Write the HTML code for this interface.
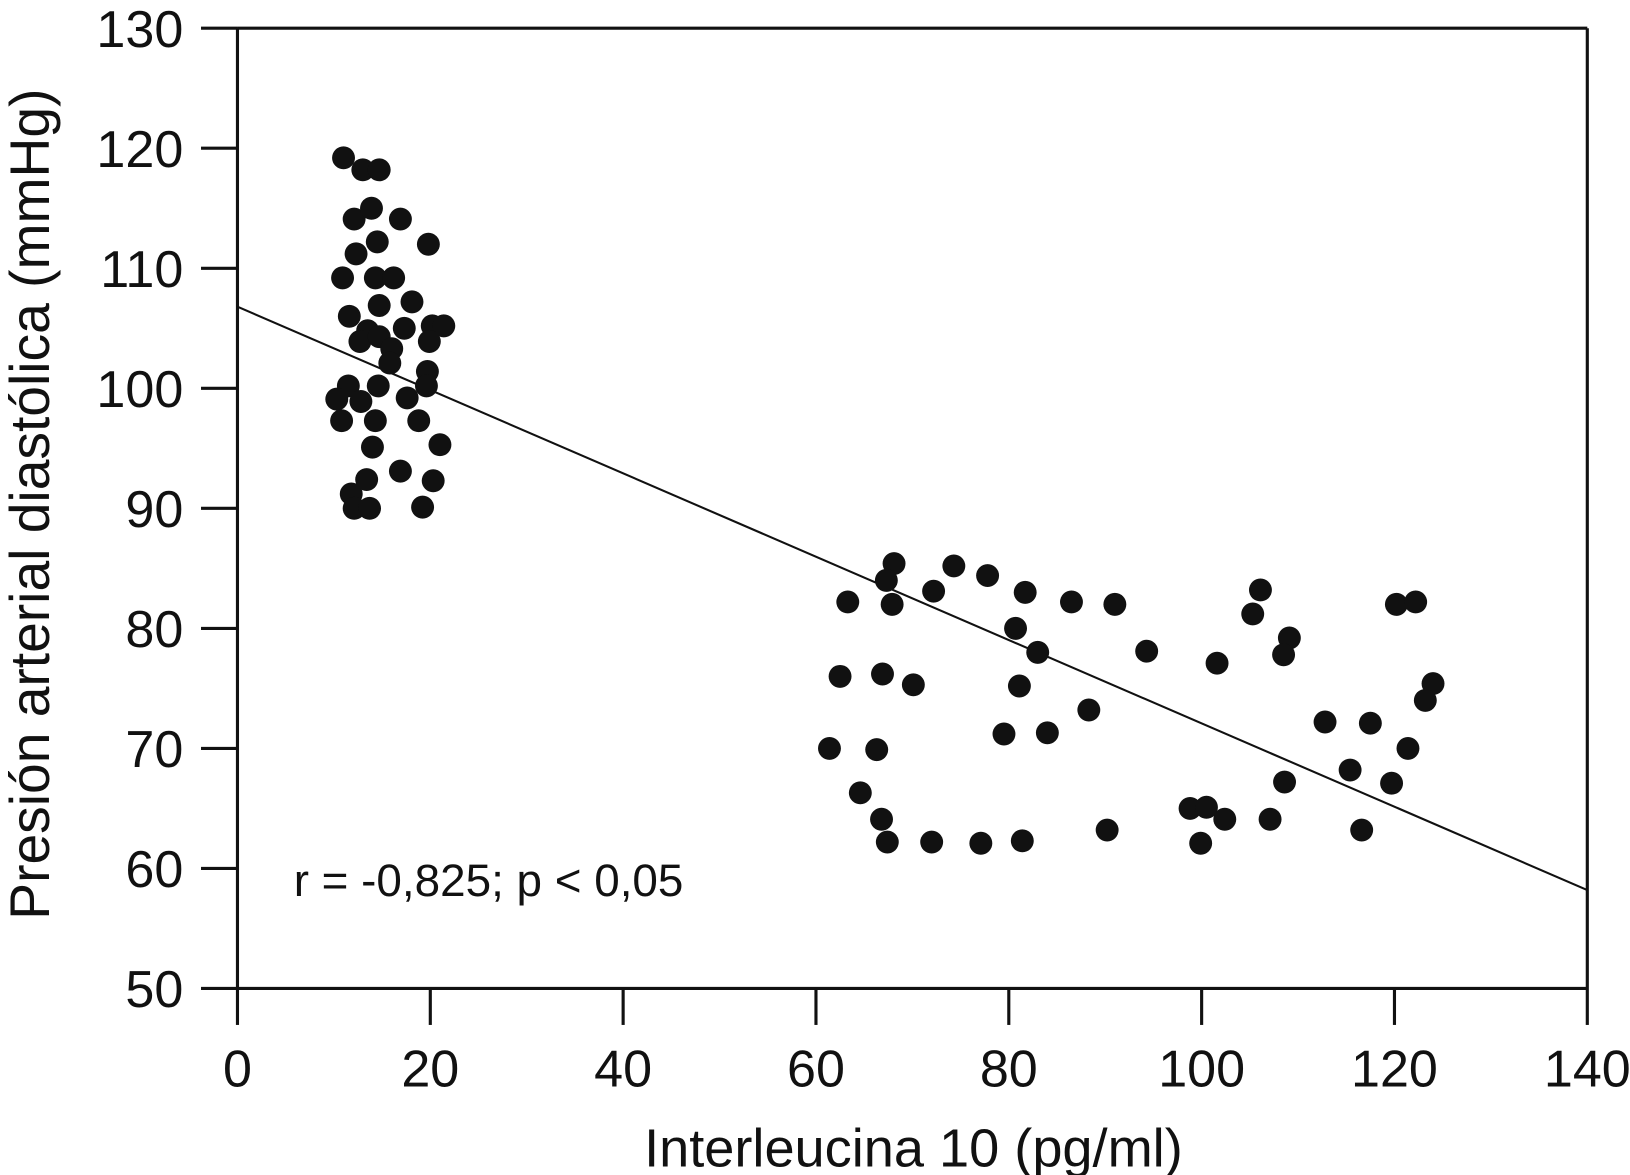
<!DOCTYPE html>
<html><head><meta charset="utf-8"><style>
html,body{margin:0;padding:0;background:#fff;}
svg{display:block;font-family:"Liberation Sans",Arial,sans-serif;}
</style></head><body>
<svg id="chart" width="1630" height="1175" viewBox="0 0 1565 1128">
<rect width="1565" height="1128" fill="#fff"/>
<g id="axes"></g>
<g id="pts"></g>
<text x="282" y="860" font-size="44" fill="#111">r = -0,825; p &lt; 0,05</text>
<text x="877" y="1120" font-size="52" fill="#111" text-anchor="middle">Interleucina 10 (pg/ml)</text>
<text transform="translate(47,484) rotate(-90)" font-size="53" fill="#111" text-anchor="middle">Presión arterial diastólica (mmHg)</text>
</svg>
<script>
const xTicks=[0,20,40,60,80,100,120,140];
const yTicks=[50,60,70,80,90,100,110,120,130];
const xVals=[11.0,13.0,14.7,12.1,13.9,16.9,12.3,14.5,19.8,10.9,14.3,16.2,14.7,18.1,11.6,13.5,12.7,14.7,17.3,16.0,20.2,21.4,15.8,19.9,19.7,19.6,11.5,14.6,10.3,12.8,17.6,10.8,14.3,18.8,14.0,21.0,16.9,13.4,20.3,11.8,12.1,13.7,19.2,
68.1,74.3,77.8,67.3,72.2,81.7,106.1,63.3,67.9,86.5,91.0,120.2,122.2,105.3,80.7,109.1,108.5,83.0,94.3,101.6,62.5,66.9,70.1,81.1,124.0,123.2,88.3,112.8,117.5,79.5,84.0,61.4,66.3,121.4,108.6,119.7,115.4,64.6,98.8,100.5,66.8,102.4,107.1,90.2,116.6,67.4,72.0,77.1,81.4,99.9];
const yVals=[119.2,118.2,118.2,114.1,115.0,114.1,111.2,112.2,112.0,109.2,109.2,109.2,106.9,107.2,106.0,104.8,103.9,104.3,105.0,103.3,105.2,105.2,102.1,103.9,101.4,100.2,100.2,100.2,99.1,98.9,99.2,97.3,97.3,97.3,95.1,95.3,93.1,92.4,92.3,91.2,90.0,90.0,90.1,
85.4,85.2,84.4,84.0,83.1,83.0,83.2,82.2,82.0,82.2,82.0,82.0,82.2,81.2,80.0,79.2,77.8,78.0,78.1,77.1,76.0,76.2,75.3,75.2,75.4,74.0,73.2,72.2,72.1,71.2,71.3,70.0,69.9,70.0,67.2,67.1,68.2,66.3,65.0,65.1,64.1,64.1,64.1,63.2,63.2,62.2,62.2,62.1,62.3,62.1];
const fitX=[0,140];
const fitY=[106.8,58.2];
const NS='http://www.w3.org/2000/svg';
const X0=228,X1=1524,Y0=949,Y1=27;
const sx=v=>X0+(v-0)/140*(X1-X0);
const sy=v=>Y0-(v-50)/80*(Y0-Y1);
function mk(tag,attrs,parent){const e=document.createElementNS(NS,tag);for(const k in attrs)e.setAttribute(k,attrs[k]);parent.appendChild(e);return e;}
const ax=document.getElementById('axes');
let l=mk('line',{x1:X0,y1:Y0,x2:X1,y2:Y0,stroke:'#111','stroke-width':3},ax);


l=mk('line',{x1:X0,y1:Y0,x2:X0,y2:Y1,stroke:'#111','stroke-width':3},ax);


l=mk('line',{x1:X0,y1:Y1,x2:X1,y2:Y1,stroke:'#111','stroke-width':3},ax);


l=mk('line',{x1:X1,y1:Y1,x2:X1,y2:Y0,stroke:'#111','stroke-width':3},ax);


xTicks.forEach(v=>{
 const t=mk('line',{x1:sx(v),y1:Y0,x2:sx(v),y2:Y0+35,stroke:'#111','stroke-width':3},ax);
 
 
 const tx=mk('text',{x:sx(v),y:1043,'font-size':50,'text-anchor':'middle',fill:'#111'},ax);
 tx.textContent=v;
 
 
});
yTicks.forEach(v=>{
 const t=mk('line',{x1:X0-35,y1:sy(v),x2:X0,y2:sy(v),stroke:'#111','stroke-width':3},ax);
 
 
 const tx=mk('text',{x:176,y:sy(v)+18,'font-size':50,'text-anchor':'end',fill:'#111'},ax);
 tx.textContent=v;
 
 
});
const fl=mk('line',{x1:sx(fitX[0]),y1:sy(fitY[0]),x2:sx(fitX[1]),y2:sy(fitY[1]),stroke:'#111','stroke-width':2},ax);


const pg=document.getElementById('pts');
xVals.forEach((v,i)=>{
 const c=mk('circle',{cx:sx(v),cy:sy(yVals[i]),r:11,fill:'#111'},pg);
 
 
});
</script>
</body></html>
